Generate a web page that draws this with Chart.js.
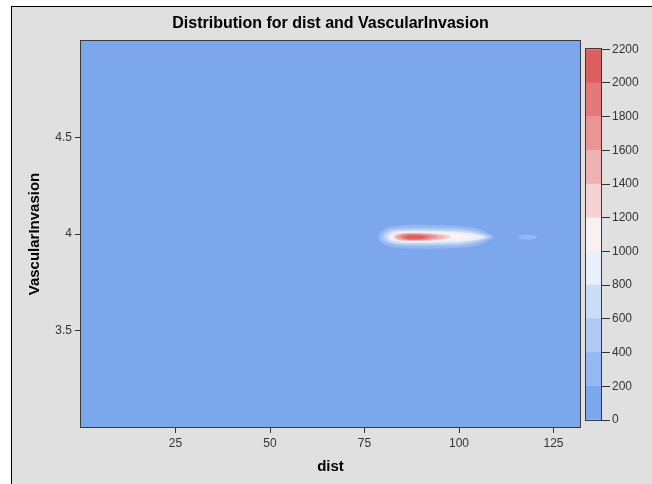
<!DOCTYPE html>
<html><head><meta charset="utf-8">
<script src="https://cdn.jsdelivr.net/npm/chart.js@4.4.1/dist/chart.umd.min.js"></script>
<style>
html,body{margin:0;padding:0;background:#fff;width:652px;height:484px;overflow:hidden;position:relative;}
#frame{position:absolute;left:11px;top:6px;width:660px;height:500px;background:#e0e0e0;border-left:1px solid #000;border-top:1px solid #000;}
#mainWrap{position:absolute;left:0;top:0;width:652px;height:484px;}
#barWrap{position:absolute;left:580px;top:40px;width:72px;height:390px;}
</style></head><body>
<div id="frame"></div>
<div id="mainWrap"><canvas id="main" width="652" height="484"></canvas></div>
<div id="barWrap"><canvas id="bar" width="72" height="390"></canvas></div>
<script>
// ---- data ----
const chartTitle = 'Distribution for dist and VascularInvasion';
const xTitle = 'dist';
const yTitle = 'VascularInvasion';
const xRange = [0, 132];
const yRange = [3, 5];
const xTicks = [25, 50, 75, 100, 125];
const yTicks = [3.5, 4, 4.5];
const levelTicks = [0, 200, 400, 600, 800, 1000, 1200, 1400, 1600, 1800, 2000, 2200];
const bandColors = ['#7DA7ED','#95B8F0','#B0CAF3','#CBDCF7','#EAF0FB','#FBF1F1','#F5D1D1','#EFB2B2','#E99595','#E37A7A','#DD5E5E'];

// contour outlines (dist, VascularInvasion) for each density level
const contour200 = [[88.5,4.046],[95.1,4.044],[100.4,4.039],[105.1,4.026],[107.5,4.005],[109.1,3.985],[107.5,3.964],[105.1,3.943],[100.4,3.931],[95.1,3.926],[88.5,3.926],[83.7,3.931],[80.9,3.941],[79.4,3.959],[78.7,3.985],[79.4,4.010],[80.9,4.031],[83.7,4.041],[88.5,4.046]];
const contour200b = [[118.1,3.995],[119.4,3.992],[120.6,3.983],[119.4,3.974],[118.1,3.972],[116.8,3.974],[115.7,3.983],[116.8,3.992],[118.1,3.995]];
const contour400 = [[88.5,4.031],[95.1,4.029],[100.4,4.026],[104.6,4.013],[106.7,4.0],[108.3,3.985],[106.7,3.969],[104.6,3.956],[100.4,3.943],[95.1,3.941],[88.5,3.941],[84.0,3.943],[81.6,3.954],[80.2,3.964],[79.6,3.985],[80.2,4.005],[81.6,4.021],[84.0,4.028],[88.5,4.031]];
const contour600 = [[89.8,4.021],[96.4,4.018],[101.7,4.013],[105.7,3.997],[107.5,3.985],[105.7,3.972],[101.7,3.956],[96.4,3.950],[89.8,3.949],[84.0,3.951],[81.6,3.961],[80.5,3.985],[81.6,4.010],[84.0,4.018],[89.8,4.021]];
const contour800 = [[89.8,4.014],[96.4,4.011],[101.7,4.005],[104.9,3.995],[106.5,3.985],[104.9,3.974],[101.7,3.964],[96.4,3.958],[89.8,3.956],[84.5,3.959],[82.3,3.967],[81.3,3.985],[82.3,4.005],[84.5,4.013],[89.8,4.014]];
const contour1000 = [[91.1,4.006],[96.4,4.003],[100.9,3.997],[103.5,3.985],[100.9,3.972],[96.4,3.967],[91.1,3.964],[85.8,3.964],[83.2,3.969],[82.1,3.985],[83.2,4.003],[85.8,4.008],[91.1,4.006]];
const contour1200 = [[92.4,4.003],[96.7,3.995],[97.7,3.985],[96.7,3.974],[92.4,3.968],[87.1,3.966],[83.7,3.969],[82.6,3.985],[83.7,4.0],[87.1,4.005],[92.4,4.003]];
const contour1400 = [[92.4,4.0],[95.1,3.992],[96.1,3.985],[95.1,3.975],[92.4,3.969],[87.7,3.968],[84.2,3.971],[83.2,3.985],[84.2,3.997],[87.7,4.003],[92.4,4.0]];
const contour1600 = [[88.0,4.0],[91.9,3.997],[94.3,3.985],[91.9,3.972],[88.0,3.969],[85.0,3.973],[84.0,3.985],[85.0,3.997],[88.0,4.0]];
const contour1800 = [[88.5,3.997],[91.1,3.992],[92.4,3.985],[91.1,3.975],[88.5,3.972],[85.8,3.974],[84.7,3.985],[85.8,3.995],[88.5,3.997]];
const contour2000 = [[87.1,3.992],[89.8,3.991],[91.1,3.985],[89.8,3.977],[87.1,3.976],[85.8,3.985],[87.1,3.992]];

// top-most first (dataset 0 drawn on top)
const contours = [
  {level: 2000, pts: contour2000},
  {level: 1800, pts: contour1800},
  {level: 1600, pts: contour1600},
  {level: 1400, pts: contour1400},
  {level: 1200, pts: contour1200},
  {level: 1000, pts: contour1000},
  {level: 800, pts: contour800},
  {level: 600, pts: contour600},
  {level: 400, pts: contour400},
  {level: 200, pts: contour200},
  {level: 200, pts: contour200b}
];

const FONT = "'Liberation Sans', Arial, sans-serif";
const INK = '#333333';

const frameArea = {
  id: 'frameArea',
  beforeDatasetsDraw(c) {
    const {ctx, chartArea: a} = c;
    ctx.save();
    ctx.fillStyle = bandColors[0];
    ctx.fillRect(a.left, a.top, a.right - a.left, a.bottom - a.top);
    ctx.restore();
  },
  afterDraw(c) {
    const {ctx, chartArea: a} = c;
    ctx.save();
    ctx.strokeStyle = '#3a3a3a';
    ctx.lineWidth = 1;
    ctx.strokeRect(Math.round(a.left) - 0.5, Math.round(a.top) - 0.5, Math.round(a.right - a.left) + 1, Math.round(a.bottom - a.top) + 1);
    ctx.restore();
  }
};

const levelColor = (lv) => bandColors[Math.round(lv / 200)];

new Chart(document.getElementById('main'), {
  type: 'line',
  data: {
    datasets: contours.map(c => ({
      label: String(c.level),
      data: c.pts.map(p => ({x: p[0], y: p[1]})),
      backgroundColor: levelColor(c.level),
      borderColor: levelColor(c.level),
      borderWidth: 0.5,
      pointRadius: 0,
      tension: 0.4,
      fill: 'shape'
    }))
  },
  options: {
    responsive: false,
    animation: false,
    events: [],
    layout: {padding: {left: 22, right: 72, top: 8, bottom: 8}},
    plugins: {
      legend: {display: false},
      tooltip: {enabled: false},
      title: {
        display: true, text: chartTitle, fullSize: false, color: '#000',
        font: {family: FONT, size: 16, weight: 'bold'},
        padding: {top: 6, bottom: 7.8}
      }
    },
    scales: {
      x: {
        type: 'linear', min: xRange[0], max: xRange[1],
        afterBuildTicks: s => { s.ticks = xTicks.map(v => ({value: v})); },
        afterFit: s => { s.height = 49; },
        grid: {drawOnChartArea: false, drawTicks: true, tickLength: 6, color: INK},
        border: {display: true, color: INK},
        ticks: {color: INK, font: {family: FONT, size: 12}, padding: 3, maxRotation: 0, callback: v => String(v)},
        title: {display: true, text: xTitle, color: '#000', font: {family: FONT, size: 15, weight: 'bold'}, padding: {top: 0, bottom: 0}}
      },
      y: {
        type: 'linear', min: yRange[0], max: yRange[1],
        afterBuildTicks: s => { s.ticks = yTicks.map(v => ({value: v})); },
        afterFit: s => { s.width = 59; },
        grid: {drawOnChartArea: false, drawTicks: true, tickLength: 6, color: INK},
        border: {display: true, color: INK},
        ticks: {color: INK, font: {family: FONT, size: 12}, padding: 3, callback: v => String(v)},
        title: {display: true, text: yTitle, color: '#000', font: {family: FONT, size: 15, weight: 'bold'}, padding: {top: 4, bottom: 0}}
      }
    }
  },
  plugins: [frameArea]
});

const barFrame = {
  id: 'barFrame',
  afterDraw(c) {
    const {ctx, chartArea: a} = c;
    ctx.save();
    ctx.strokeStyle = '#3a3a3a';
    ctx.lineWidth = 1;
    ctx.strokeRect(Math.round(a.left) - 0.5, Math.round(a.top) - 0.5, Math.round(a.right - a.left) + 1, Math.round(a.bottom - a.top) + 1);
    ctx.restore();
  }
};

new Chart(document.getElementById('bar'), {
  type: 'bar',
  data: {
    labels: [''],
    datasets: bandColors.map((col, i) => ({
      label: levelTicks[i] + '-' + levelTicks[i + 1],
      data: [levelTicks[i + 1] - levelTicks[i]],
      backgroundColor: col,
      borderWidth: 0,
      barPercentage: 1,
      categoryPercentage: 1
    }))
  },
  options: {
    responsive: false,
    animation: false,
    events: [],
    layout: {padding: {left: 6, right: 0, top: 9, bottom: 10}},
    plugins: {legend: {display: false}, tooltip: {enabled: false}},
    scales: {
      x: {stacked: true, display: false},
      y: {
        stacked: true, position: 'right', min: levelTicks[0], max: levelTicks[levelTicks.length - 1],
        afterBuildTicks: s => { s.ticks = levelTicks.map(v => ({value: v})); },
        afterFit: s => { s.width = 51; },
        grid: {drawOnChartArea: false, drawTicks: true, tickLength: 9, color: INK},
        border: {display: false},
        ticks: {color: INK, font: {family: FONT, size: 12}, padding: 2, callback: v => String(v)}
      }
    }
  },
  plugins: [barFrame]
});
</script>
</body></html>
